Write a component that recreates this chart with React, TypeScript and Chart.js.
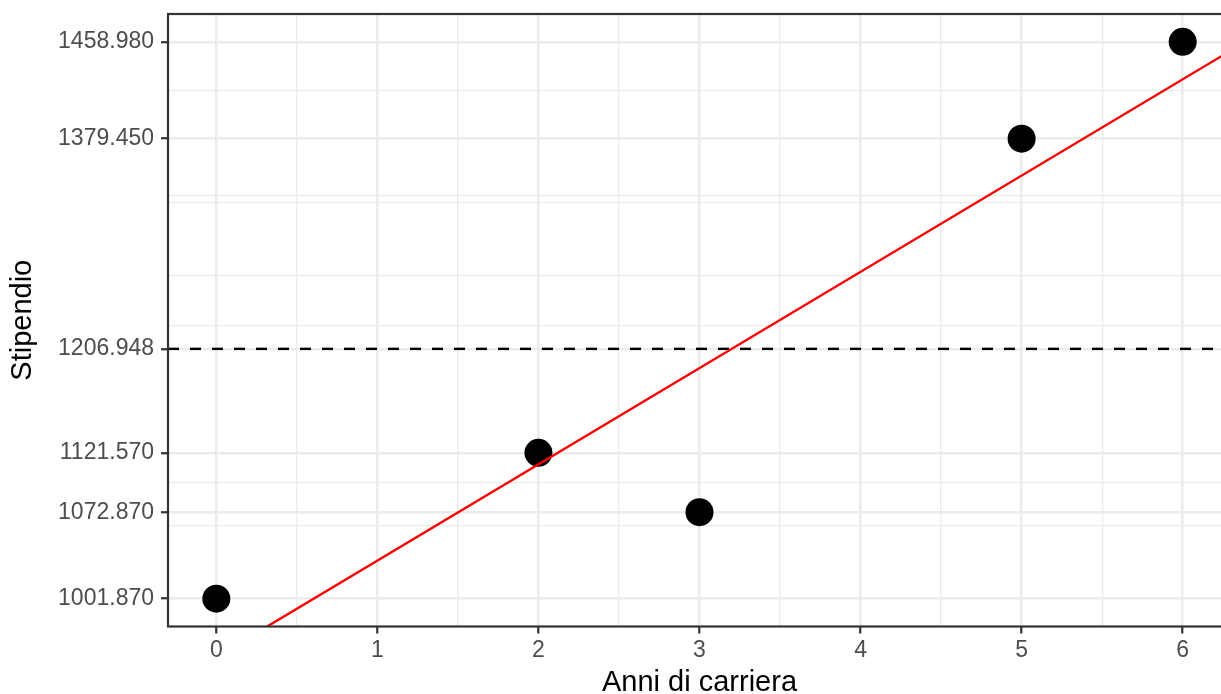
import React, { useEffect, useRef } from 'react';
import { Chart, registerables } from 'chart.js';

Chart.register(...registerables);

// ---- data ----
const YEARS = [0, 2, 3, 5, 6];
const SALARIES = [1001.87, 1121.57, 1072.87, 1379.45, 1458.98];
const X_TICKS = [0, 1, 2, 3, 4, 5, 6];
const X_MINOR = [0.5, 1.5, 2.5, 3.5, 4.5, 5.5];
const Y_MINOR = [1061.72, 1097.22, 1226.16, 1266.798, 1326.648, 1332.964, 1419.215];
const X_LIMITS = [-0.3, 6.3];
const Y_LIMITS = [979.0145, 1481.8355];
const X_TITLE = 'Anni di carriera';
const Y_TITLE = 'Stipendio';

// derived: mean salary and least-squares fit
const MEAN_Y = SALARIES.reduce((a, b) => a + b, 0) / SALARIES.length;
const MEAN_X = YEARS.reduce((a, b) => a + b, 0) / YEARS.length;
const SXY = YEARS.reduce((s, x, i) => s + (x - MEAN_X) * (SALARIES[i] - MEAN_Y), 0);
const SXX = YEARS.reduce((s, x) => s + (x - MEAN_X) * (x - MEAN_X), 0);
const SLOPE = SXY / SXX;
const INTERCEPT = MEAN_Y - SLOPE * MEAN_X;

const Y_TICKS = [...SALARIES, MEAN_Y];

const FONT = "'Liberation Sans', Arial, Helvetica, sans-serif";
const GRID = '#EBEBEB';
const DARK = '#333333';
const CANVAS_W = 1245;
const CANVAS_H = 694;

const isIn = (arr: number[], v: number) => arr.some((a) => Math.abs(a - v) < 1e-9);

const panelBorder = {
  id: 'panelBorder',
  afterDatasetsDraw(chart: any) {
    const { ctx, chartArea } = chart;
    ctx.save();
    ctx.strokeStyle = DARK;
    ctx.lineWidth = 2.2;
    ctx.strokeRect(chartArea.left, chartArea.top, chartArea.right - chartArea.left, chartArea.bottom - chartArea.top);
    ctx.restore();
  },
};

const zeroPad = (s: any) => {
  s.paddingTop = 0;
  s.paddingBottom = 0;
  s.paddingLeft = 0;
  s.paddingRight = 0;
};

export default function App() {
  const ref = useRef<HTMLCanvasElement | null>(null);

  useEffect(() => {
    if (!ref.current) return;
    const chart = new Chart(ref.current, {
      type: 'scatter',
      data: {
        datasets: [
          {
            type: 'line',
            label: 'fit',
            data: X_LIMITS.map((x) => ({ x, y: INTERCEPT + SLOPE * x })),
            borderColor: '#FF0000',
            borderWidth: 2.4,
            pointRadius: 0,
            fill: false,
            order: 0,
            clip: 0,
          } as any,
          {
            type: 'scatter',
            label: 'points',
            data: YEARS.map((x, i) => ({ x, y: SALARIES[i] })),
            backgroundColor: '#000000',
            borderWidth: 0,
            pointRadius: 14,
            pointHoverRadius: 14,
            order: 1,
          } as any,
          {
            type: 'line',
            label: 'mean',
            data: X_LIMITS.map((x) => ({ x, y: MEAN_Y })),
            borderColor: '#000000',
            borderWidth: 2.4,
            borderDash: [11, 11],
            pointRadius: 0,
            fill: false,
            order: 2,
            clip: 0,
          } as any,
        ],
      },
      options: {
        animation: false,
        responsive: false,
        devicePixelRatio: 1,
        events: [],
        layout: { padding: { top: 12.5, right: 8.7, bottom: 0, left: 0 } },
        plugins: { legend: { display: false }, tooltip: { enabled: false } },
        scales: {
          x: {
            type: 'linear',
            position: 'bottom',
            min: X_LIMITS[0],
            max: X_LIMITS[1],
            afterBuildTicks: (s: any) => {
              s.ticks = [...X_TICKS, ...X_MINOR].sort((a, b) => a - b).map((v) => ({ value: v }));
            },
            afterFit: (s: any) => {
              s.height = 67.5;
              zeroPad(s);
            },
            ticks: {
              autoSkip: false,
              maxRotation: 0,
              padding: 3,
              color: '#4D4D4D',
              font: { family: FONT, size: 23 },
              callback: (v: any) => (isIn(X_TICKS, Number(v)) ? String(v) : ''),
            },
            grid: {
              color: GRID,
              lineWidth: (c: any) => (isIn(X_TICKS, c.tick?.value) ? 2.5 : 1.3),
              drawTicks: true,
              tickLength: 7,
              tickWidth: 2.2,
              tickColor: (c: any) => (isIn(X_TICKS, c.tick?.value) ? DARK : 'rgba(0,0,0,0)'),
            },
            border: { display: false },
            title: {
              display: true,
              text: X_TITLE,
              color: '#000000',
              font: { family: FONT, size: 29, lineHeight: 0.76 },
              padding: { top: 0, bottom: 0 },
            },
          },
          y: {
            type: 'linear',
            position: 'left',
            min: Y_LIMITS[0],
            max: Y_LIMITS[1],
            afterBuildTicks: (s: any) => {
              s.ticks = [...Y_TICKS, ...Y_MINOR].sort((a, b) => a - b).map((v) => ({ value: v }));
            },
            afterFit: (s: any) => {
              s.width = 168;
              zeroPad(s);
            },
            ticks: {
              autoSkip: false,
              padding: 7,
              color: '#4D4D4D',
              font: { family: FONT, size: 23 },
              callback: (v: any) => (isIn(Y_TICKS, Number(v)) ? Number(v).toFixed(3) : ''),
            },
            grid: {
              color: GRID,
              lineWidth: (c: any) => (isIn(Y_TICKS, c.tick?.value) ? 2.5 : 1.3),
              drawTicks: true,
              tickLength: 7,
              tickWidth: 2.2,
              tickColor: (c: any) => (isIn(Y_TICKS, c.tick?.value) ? DARK : 'rgba(0,0,0,0)'),
            },
            border: { display: false },
            title: {
              display: true,
              text: Y_TITLE,
              color: '#000000',
              font: { family: FONT, size: 29, lineHeight: 1.2 },
              padding: { top: 6, bottom: 0 },
            },
          },
        },
      },
      plugins: [panelBorder],
    } as any);
    return () => chart.destroy();
  }, []);

  return (
    <div
      style={{
        position: 'fixed',
        left: 0,
        top: 0,
        width: 1221,
        height: 694,
        overflow: 'hidden',
        background: '#FFFFFF',
      }}
    >
      <canvas
        ref={ref}
        width={CANVAS_W}
        height={CANVAS_H}
        style={{ width: CANVAS_W, height: CANVAS_H, display: 'block' }}
      />
    </div>
  );
}
